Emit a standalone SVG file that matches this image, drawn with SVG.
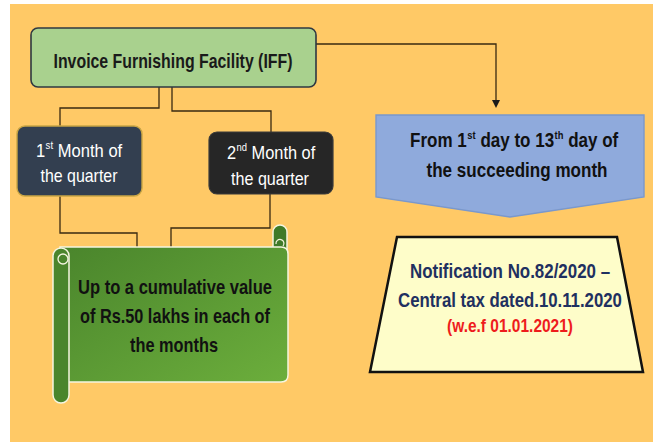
<svg xmlns="http://www.w3.org/2000/svg" width="653" height="442" viewBox="0 0 653 442">
<defs>
<style>
.t{font-family:"Liberation Sans",Arial,sans-serif;text-anchor:middle}
.s{font-family:"Liberation Sans",Arial,sans-serif;text-anchor:start}
.b{font-weight:bold}
.conn{fill:none;stroke:#3a2a12;stroke-width:1.3}
</style>
<linearGradient id="gscroll" x1="0" y1="0" x2="1" y2="1">
<stop offset="0" stop-color="#4a852c"/>
<stop offset="1" stop-color="#6cae3c"/>
</linearGradient>
</defs>
<rect x="0" y="0" width="653" height="442" fill="#ffffff"/>
<rect x="10" y="4" width="643" height="438" fill="#ffc966"/>

<g id="connectors">
<polyline class="conn" points="159,87 159,108 60,108 60,126"/>
<polyline class="conn" points="172,87 172,111 271,111 271,132"/>
<polyline class="conn" points="60,196 60,233 137,233 137,247"/>
<polyline class="conn" points="270,194 270,228 171,228 171,247"/>
<polyline class="conn" points="316,44 496,44 496,101"/>
<path d="M492,100 L500,100 L496,108 Z" fill="#1a1a1a"/>
</g>

<g id="iff">
<rect x="31" y="28" width="285" height="59" rx="7" fill="#a9d18e" stroke="#2f3842" stroke-width="1.6"/>
<text class="t b" x="173" y="68" font-size="21" fill="#1a1a1a" textLength="239" lengthAdjust="spacingAndGlyphs">Invoice Furnishing Facility (IFF)</text>
</g>

<g id="month1">
<rect x="17" y="126" width="125" height="70" rx="8" fill="#333f50" stroke="#c9a544" stroke-width="1.4"/>
<text class="s" transform="translate(36 157) scale(0.87 1)" font-size="19" fill="#ffffff" textLength="10.6" lengthAdjust="spacingAndGlyphs">1</text>
<text class="s" transform="translate(45.6 149) scale(0.87 1)" font-size="11" fill="#ffffff" textLength="8.6" lengthAdjust="spacingAndGlyphs">st</text>
<text class="s" transform="translate(57.8 157) scale(0.87 1)" font-size="19" fill="#ffffff" textLength="74" lengthAdjust="spacingAndGlyphs">Month of</text>
<text class="t" x="79" y="182" font-size="19" fill="#ffffff" textLength="77" lengthAdjust="spacingAndGlyphs">the quarter</text>
</g>

<g id="month2">
<rect x="209" y="132" width="124" height="62" rx="8" fill="#262626" stroke="#3a3a3a" stroke-width="1.2"/>
<text class="s" transform="translate(227 159) scale(0.86 1)" font-size="19" fill="#ffffff" textLength="10.6" lengthAdjust="spacingAndGlyphs">2</text>
<text class="s" transform="translate(236.5 151) scale(0.86 1)" font-size="11" fill="#ffffff" textLength="12.2" lengthAdjust="spacingAndGlyphs">nd</text>
<text class="s" transform="translate(251.6 159) scale(0.86 1)" font-size="19" fill="#ffffff" textLength="74" lengthAdjust="spacingAndGlyphs">Month of</text>
<text class="t" x="270" y="185" font-size="19" fill="#ffffff" textLength="78" lengthAdjust="spacingAndGlyphs">the quarter</text>
</g>

<g id="scroll">
<path d="M273,250 V232 A7,7 0 0 1 287,232 V250 Z" fill="#3f7a28" stroke="#f5f5e0" stroke-width="1.5"/>
<path d="M60,247 H281 Q288,247 288,254 V375 Q288,382 281,382 H60 Z" fill="url(#gscroll)" stroke="#f5f5e0" stroke-width="1.5"/>
<path d="M276,244 A4,4 0 1 1 283,246" fill="none" stroke="#f5f5e0" stroke-width="1.2"/>
<path d="M53,256 V395 A8,8 0 0 0 69,395 V256 A8,8 0 0 0 53,256 Z" fill="#4a852c" stroke="#f5f5e0" stroke-width="1.5"/>
<circle cx="63" cy="259" r="5" fill="#4a852c" stroke="#f5f5e0" stroke-width="1.3"/>
<text class="t b" x="175" y="294" font-size="21" fill="#111111" textLength="194" lengthAdjust="spacingAndGlyphs">Up to a cumulative value</text>
<text class="t b" x="175" y="323" font-size="21" fill="#111111" textLength="190" lengthAdjust="spacingAndGlyphs">of Rs.50 lakhs in each of</text>
<text class="t b" x="174" y="352" font-size="21" fill="#111111" textLength="88" lengthAdjust="spacingAndGlyphs">the months</text>
</g>

<g id="period">
<path d="M376,115 H644 V197 L510,217 L376,197 Z" fill="#8faadc" stroke="#7a98cc" stroke-width="1.4"/>
<text class="s b" transform="translate(410 147) scale(0.85 1)" font-size="20" fill="#111111" textLength="66.7" lengthAdjust="spacingAndGlyphs">From 1</text>
<text class="s b" transform="translate(467.3 139) scale(0.85 1)" font-size="11" fill="#111111" textLength="9.8" lengthAdjust="spacingAndGlyphs">st</text>
<text class="s b" transform="translate(480.4 147) scale(0.85 1)" font-size="20" fill="#111111" textLength="86.7" lengthAdjust="spacingAndGlyphs">day to 13</text>
<text class="s b" transform="translate(554.6 139) scale(0.85 1)" font-size="11" fill="#111111" textLength="10.4" lengthAdjust="spacingAndGlyphs">th</text>
<text class="s b" transform="translate(568.2 147) scale(0.85 1)" font-size="20" fill="#111111" textLength="58.9" lengthAdjust="spacingAndGlyphs">day of</text>
<text class="t b" x="517" y="177" font-size="20" fill="#111111" textLength="181" lengthAdjust="spacingAndGlyphs">the succeeding month</text>
</g>

<g id="notification">
<path d="M397,237 H617 L643,372 H370 Z" fill="#fefdc9" stroke="#111111" stroke-width="2.5"/>
<text class="t b" transform="translate(510 278) scale(0.82 1)" font-size="21" fill="#1f3060" textLength="244" lengthAdjust="spacingAndGlyphs">Notification No.82/2020 –</text>
<text class="t b" transform="translate(510 307) scale(0.82 1)" font-size="21" fill="#1f3060" textLength="273" lengthAdjust="spacingAndGlyphs">Central tax dated.10.11.2020</text>
<text class="t b" x="510" y="332" font-size="18" fill="#ee1c1c" textLength="126" lengthAdjust="spacingAndGlyphs">(w.e.f 01.01.2021)</text>
</g>
</svg>
